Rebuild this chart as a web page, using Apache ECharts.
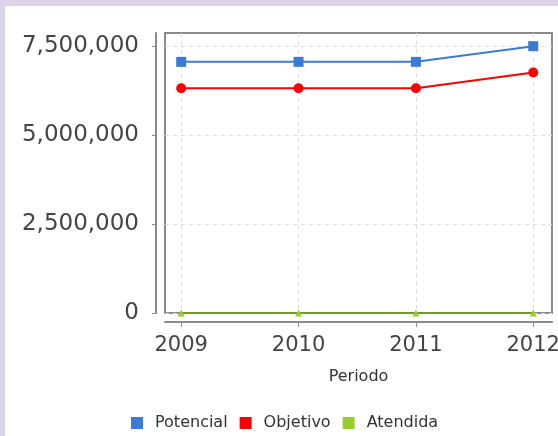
<!DOCTYPE html>
<html>
<head>
<meta charset="utf-8">
<script src="https://cdn.jsdelivr.net/npm/echarts@6/dist/echarts.min.js"></script>
<style>
  html, body { margin: 0; padding: 0; width: 558px; height: 436px; overflow: hidden; background: #dcd4e6; }
  #panel { position: absolute; left: 5px; top: 6px; right: 0; bottom: 0; background: #ffffff; }
  #chart { position: absolute; left: 0; top: 0; width: 558px; height: 436px; }
</style>
</head>
<body>
<div id="panel"></div>
<div id="chart"></div>
<script>
// Data
const years = [2009, 2010, 2011, 2012];
const seriesNames = ['Potencial', 'Objetivo', 'Atendida'];
const potencial = [7050000, 7050000, 7050000, 7490000];
const objetivo  = [6310000, 6310000, 6310000, 6750000];
const atendida  = [0, 0, 0, 0];
const yTicks = [0, 2500000, 5000000, 7500000];
const xAxisTitle = 'Periodo';

const pairs = (vals) => years.map((y, i) => [y, vals[i]]);
const fmt = (v) => String(v).replace(/\B(?=(\d{3})+(?!\d))/g, ',');

const chart = echarts.init(document.getElementById('chart'), null, { renderer: 'canvas' });
chart.setOption({
  backgroundColor: 'transparent',
  animation: false,
  textStyle: { fontFamily: 'DejaVu Sans' },
  grid: {
    left: 165, right: 6, top: 33, bottom: 123,
    outerBoundsMode: 'none',
    containLabel: false,
    show: true, borderColor: '#8a8a8a', borderWidth: 2, backgroundColor: 'transparent'
  },
  legend: {
    left: 131, top: 415, padding: 0,
    itemWidth: 12, itemHeight: 12, itemGap: 12,
    icon: 'rect',
    data: seriesNames,
    textStyle: { fontFamily: 'DejaVu Sans', fontSize: 16, color: '#333', padding: [0, 0, 0, 7] }
  },
  xAxis: {
    type: 'value',
    min: 2008.862, max: 2012.16,
    offset: 9,
    name: xAxisTitle,
    nameLocation: 'middle',
    nameGap: 47,
    nameTextStyle: { fontFamily: 'DejaVu Sans', fontSize: 16, color: '#333' },
    axisLine: { show: true, onZero: false, lineStyle: { color: '#8a8a8a', width: 2 } },
    axisTick: { show: true, length: 5, customValues: years, lineStyle: { color: '#8a8a8a', width: 1 } },
    axisLabel: {
      customValues: years, margin: 13,
      formatter: (v) => String(Math.round(v)),
      fontFamily: 'DejaVu Sans', fontSize: 21, color: '#444'
    },
    splitLine: { show: true, lineStyle: { color: '#dcdcdc', type: [4, 4], width: 1 } }
  },
  yAxis: {
    type: 'value',
    min: 0, max: 7860000,
    offset: 9,
    axisLine: { show: true, onZero: false, lineStyle: { color: '#8a8a8a', width: 2 } },
    axisTick: { show: true, length: 4, customValues: yTicks, lineStyle: { color: '#8a8a8a', width: 1 } },
    axisLabel: {
      customValues: yTicks, margin: 17,
      formatter: (v) => fmt(Math.round(v)),
      fontFamily: 'DejaVu Sans', fontSize: 23, color: '#444'
    },
    splitLine: { show: true, lineStyle: { color: '#dcdcdc', type: [4, 4], width: 1 } }
  },
  series: [
    {
      name: seriesNames[0], type: 'line', data: pairs(potencial),
      symbol: 'rect', symbolSize: 10,
      itemStyle: { color: '#3b7bd3' },
      lineStyle: { color: '#3b7bd3', width: 2 }
    },
    {
      name: seriesNames[1], type: 'line', data: pairs(objetivo),
      symbol: 'circle', symbolSize: 10,
      itemStyle: { color: '#ff0000' },
      lineStyle: { color: '#ff0000', width: 2 }
    },
    {
      name: seriesNames[2], type: 'line', data: pairs(atendida),
      symbol: 'triangle', symbolSize: 7,
      itemStyle: { color: '#99cc33' },
      lineStyle: { color: '#6f9a28', width: 2 }
    }
  ]
});
</script>
</body>
</html>
